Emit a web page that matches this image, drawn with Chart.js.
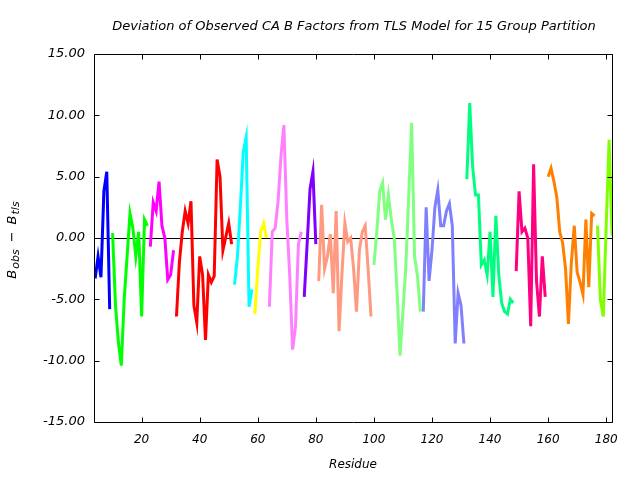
<!DOCTYPE html>
<html>
<head>
<meta charset="utf-8">
<script src="https://cdn.jsdelivr.net/npm/chart.js@4.4.1/dist/chart.umd.min.js"></script>
<style>
  html, body { margin: 0; padding: 0; background: #ffffff; }
</style>
</head>
<body>
<canvas id="myChart" width="640" height="480"></canvas>
<script>
// residue ranges and deviations (B_obs - B_tls) for the 15 TLS groups
const groupStarts = [4, 10, 23, 32, 52, 59, 64, 76, 81, 100, 117, 132, 149, 160, 177];

const group1 = [-3.3, -1.5, -3.2, 3.8, 5.4, -5.8];
const group2 = [0.4, -5.5, -8.5, -10.4, -5.0, -1.5, 2.0, 0.8, -1.5, 0.5, -6.4, 1.5, 1.0];
const group3 = [-0.7, 2.9, 2.2, 4.6, 1.0, 0.0, -3.4, -3.0, -1.0];
const group4 = [-6.4, -2.0, 0.5, 2.2, 1.2, 3.0, -5.5, -6.9, -1.5, -3.0, -8.3, -3.0, -3.6, -3.1, 6.4, 5.0, -1.0, 0.1, 1.2, -0.5];
const group5 = [-3.8, -1.5, 2.5, 7.0, 8.2, -5.6, -4.2];
const group6 = [-6.2, -2.5, 0.5, 1.2, 0.0];
const group7 = [-5.6, 0.5, 0.8, 3.0, 6.7, 9.2, 1.5, -3.0, -9.1, -7.2, -0.5, 0.5];
const group8 = [-4.8, -0.5, 4.0, 5.4, -0.5];
const group9 = [-3.5, 2.7, -2.5, -1.5, 0.3, -4.5, 2.2, -7.6, -2.9, 1.2, -0.3, 0.0, -2.5, -6.0, -1.0, 0.5, 1.0, -2.5, -6.4];
const group10 = [-2.2, 0.5, 3.8, 4.5, 1.5, 3.5, 1.5, 0.0, -4.5, -9.6, -6.0, -2.3, 3.5, 9.4, -1.5, -3.1, -6.0];
const group11 = [-6.0, 2.5, -3.5, -1.0, 2.5, 3.9, 1.0, 1.0, 2.2, 2.8, 1.0, -8.6, -4.5, -5.5, -8.6];
const group12 = [4.8, 11.0, 5.8, 3.5, 3.5, -2.2, -1.8, -3.0, 0.5, -4.8, 1.8, -3.0, -5.3, -6.0, -6.2, -5.0, -5.3];
const group13 = [-2.7, 3.8, 0.5, 0.8, 0.0, -7.2, 6.0, -3.5, -6.4, -1.5, -4.8];
const group14 = [5.0, 5.7, 4.6, 3.3, 0.5, -0.4, -2.5, -7.0, -2.0, 1.0, -2.8, -3.6, -4.6, 1.5, -4.0, 2.0, 1.8];
const group15 = [1.0, -5.0, -6.4, 1.0, 8.0, 0.2];

const groupValues = [group1, group2, group3, group4, group5, group6, group7, group8,
    group9, group10, group11, group12, group13, group14, group15];

const groupColors = ['#0000ff', '#00ff00', '#ff00ff', '#ff0000', '#00ffff', '#ffff00', '#ff80ff', '#8000ff',
    '#ff9980', '#80ff80', '#8080ff', '#00ff80', '#ff0080', '#ff8000', '#80ff00'];

const xTicks = [20, 40, 60, 80, 100, 120, 140, 160, 180];
const xMin = 3.6;
const xMax = 182;
const yMin = -15;
const yMax = 15;

const titleText = 'Deviation of Observed CA B Factors from TLS Model for 15 Group Partition';
const fontFamily = '"DejaVu Sans", Verdana, sans-serif';

const datasets = groupValues.map((vals, i) => ({
    label: 'Group ' + (i + 1),
    data: vals.map((v, j) => ({ x: groupStarts[i] + j, y: v })),
    borderColor: groupColors[i],
    backgroundColor: groupColors[i],
    borderWidth: 3,
    pointRadius: 0,
    tension: 0,
    fill: false
}));

// frame, inward ticks, zero line, title and axis titles
const decorations = {
    id: 'decorations',
    beforeDatasetsDraw(chart) {
        const { ctx, chartArea: a, scales: { y } } = chart;
        const y0 = Math.round(y.getPixelForValue(0)) + 0.5;
        ctx.save();
        ctx.strokeStyle = '#000';
        ctx.lineWidth = 1;
        ctx.beginPath();
        ctx.moveTo(a.left, y0);
        ctx.lineTo(a.right, y0);
        ctx.stroke();
        ctx.restore();
    },
    afterDraw(chart) {
        const { ctx, chartArea: a, scales: { x, y } } = chart;
        const L = Math.round(a.left) + 0.5, R = Math.round(a.right) + 0.5;
        const T = Math.round(a.top) + 0.5, B = Math.round(a.bottom) + 0.5;
        ctx.save();
        ctx.strokeStyle = '#000';
        ctx.lineWidth = 1;
        ctx.beginPath();
        ctx.rect(L, T, R - L, B - T);
        x.ticks.forEach(t => {
            const px = Math.round(x.getPixelForValue(t.value)) + 0.5;
            ctx.moveTo(px, B); ctx.lineTo(px, B - 5);
            ctx.moveTo(px, T); ctx.lineTo(px, T + 5);
        });
        y.ticks.forEach(t => {
            const py = Math.round(y.getPixelForValue(t.value)) + 0.5;
            ctx.moveTo(L, py); ctx.lineTo(L + 5, py);
            ctx.moveTo(R, py); ctx.lineTo(R - 5, py);
        });
        ctx.stroke();

        ctx.fillStyle = '#000';
        ctx.textAlign = 'center';
        ctx.textBaseline = 'middle';
        ctx.font = 'italic 13px ' + fontFamily;
        ctx.fillText(titleText, (a.left + a.right) / 2 + 1, 27);
        ctx.font = 'italic 12px ' + fontFamily;
        ctx.fillText('Residue', (a.left + a.right) / 2, 465);

        // y axis title with subscripts, rotated
        const parts = [
            { t: 'B', size: 13, dy: 0, gap: 1 },
            { t: 'obs', size: 11, dy: 3, gap: 7 },
            { t: '\u2212', size: 13, dy: 0, gap: 7 },
            { t: 'B', size: 13, dy: 0, gap: 1 },
            { t: 'tls', size: 11, dy: 3, gap: 0 }
        ];
        let total = 0;
        parts.forEach(p => {
            ctx.font = 'italic ' + p.size + 'px ' + fontFamily;
            p.w = ctx.measureText(p.t).width;
            total += p.w + p.gap;
        });
        ctx.translate(16, (a.top + a.bottom) / 2 + 2);
        ctx.rotate(-Math.PI / 2);
        ctx.textAlign = 'left';
        ctx.textBaseline = 'alphabetic';
        let u = -total / 2;
        parts.forEach(p => {
            ctx.font = 'italic ' + p.size + 'px ' + fontFamily;
            ctx.fillText(p.t, u, p.dy);
            u += p.w + p.gap;
        });
        ctx.restore();
    }
};

new Chart(document.getElementById('myChart').getContext('2d'), {
    type: 'line',
    data: { datasets: datasets },
    options: {
        responsive: false,
        animation: false,
        devicePixelRatio: 1,
        layout: { padding: { top: 54, right: 28, bottom: 0, left: 0 } },
        plugins: {
            legend: { display: false },
            title: { display: false },
            tooltip: { enabled: false }
        },
        scales: {
            x: {
                type: 'linear',
                min: xMin,
                max: xMax,
                afterBuildTicks: s => { s.ticks = xTicks.map(v => ({ value: v })); },
                afterFit: s => { s.height = 58; },
                grid: { display: false, drawTicks: false },
                border: { display: false },
                ticks: {
                    color: '#000',
                    padding: 11,
                    maxRotation: 0,
                    font: { family: fontFamily, size: 12, style: 'italic' },
                    callback: v => String(v)
                }
            },
            y: {
                min: yMin,
                max: yMax,
                afterFit: s => { s.width = 94; },
                grid: { display: false, drawTicks: false },
                border: { display: false },
                ticks: {
                    stepSize: 5,
                    color: '#000',
                    padding: 9,
                    font: { family: fontFamily, size: 13, style: 'italic' },
                    callback: v => v.toFixed(2)
                }
            }
        }
    },
    plugins: [decorations]
});
</script>
</body>
</html>
